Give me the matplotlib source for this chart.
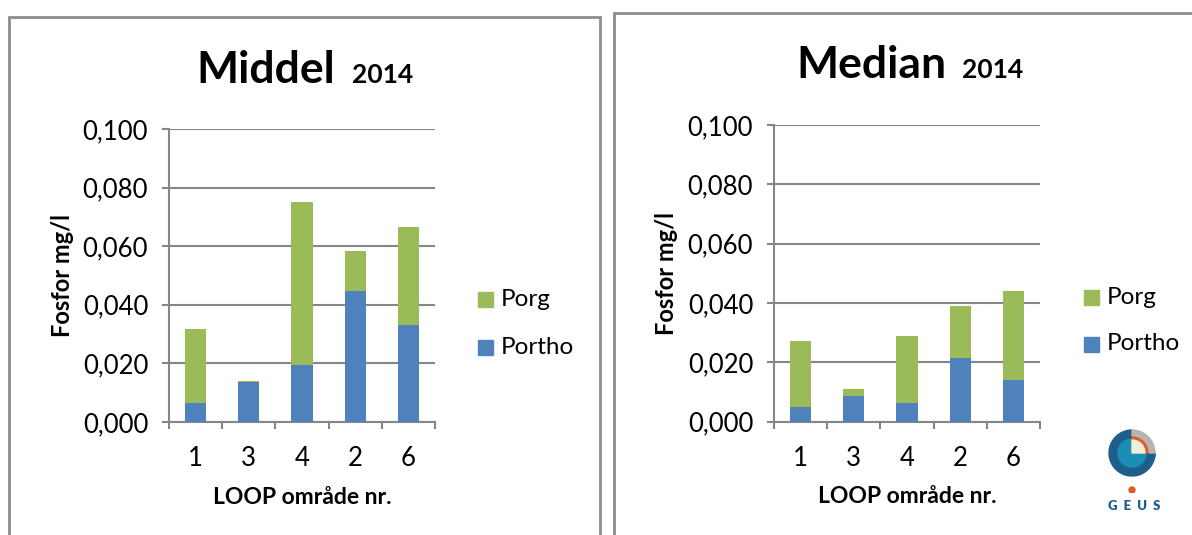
import matplotlib
matplotlib.use("Agg")
import matplotlib.pyplot as plt
from matplotlib.patches import Rectangle, Wedge, Circle
import numpy as np

plt.rcParams['font.family'] = ['Lato', 'DejaVu Sans']

categories = ["1", "3", "4", "2", "6"]
middel_portho = [0.0064, 0.0137, 0.0193, 0.0446, 0.0330]
middel_total = [0.0317, 0.0141, 0.0751, 0.0584, 0.0666]
middel_porg = [t - p for t, p in zip(middel_total, middel_portho)]
median_portho = [0.0051, 0.0088, 0.0064, 0.0216, 0.0139]
median_total = [0.0271, 0.0110, 0.0290, 0.0390, 0.0439]
median_porg = [t - p for t, p in zip(median_total, median_portho)]
yticks = [0.0, 0.02, 0.04, 0.06, 0.08, 0.10]
ytick_labels = ["0,000", "0,020", "0,040", "0,060", "0,080", "0,100"]
series_names = ["Porg", "Portho"]

BLUE = "#4F81BD"
GREEN = "#9BBB59"
GRID = "#868686"

W, H = 1192, 535
fig = plt.figure(figsize=(W / 100, H / 100), dpi=100)


def fx(x):
    return x / W


def fy(y):
    return 1 - y / H


# panel borders
for (x0, y0, x1, y1) in [(9, 17, 600, 560), (614, 13, 1220, 560)]:
    fig.patches.append(Rectangle((fx(x0), fy(y1)), fx(x1) - fx(x0), fy(y0) - fy(y1),
                                 transform=fig.transFigure, fill=False,
                                 edgecolor="#8c8c8c", linewidth=2.0, clip_on=False))


def make_panel(rect, portho, porg, title, title_right, title_left2, title_base,
               ylab_x, leg_x, leg_y1, leg_y2):
    ax = fig.add_axes(rect)
    x = np.arange(len(categories))
    ax.bar(x, portho, width=0.4, color=BLUE, zorder=3)
    ax.bar(x, porg, width=0.4, bottom=portho, color=GREEN, zorder=3)
    ax.set_xlim(-0.5, len(categories) - 0.5)
    ax.set_ylim(0, 0.1)
    ax.set_yticks(yticks)
    ax.set_yticklabels(ytick_labels, fontsize=18.5)
    ax.set_xticks(x)
    ax.set_xticklabels(categories, fontsize=18.5)
    ax.set_xticks(np.arange(-0.5, len(categories), 1.0), minor=True)
    ax.tick_params(axis='x', which='major', length=0, pad=17.5)
    ax.tick_params(axis='x', which='minor', length=5, width=1.5, color=GRID)
    ax.tick_params(axis='y', length=5, width=1.5, color=GRID, pad=10)
    ax.yaxis.grid(True, color=GRID, linewidth=1.5, zorder=0)
    ax.set_axisbelow(True)
    for s in ["top", "right"]:
        ax.spines[s].set_visible(False)
    for s in ["left", "bottom"]:
        ax.spines[s].set_color(GRID)
        ax.spines[s].set_linewidth(1.5)
    ax.set_xlabel("LOOP område nr.", fontsize=16.5, fontweight='bold', labelpad=11)
    fig.text(fx(ylab_x), (rect[1] + rect[1] + rect[3]) / 2, "Fosfor mg/l",
             rotation=90, fontsize=17, fontweight='bold', ha='center', va='center')
    fig.text(fx(title_right), fy(title_base), title, fontsize=32, fontweight='bold',
             ha='right', va='baseline')
    fig.text(fx(title_left2), fy(title_base), "2014", fontsize=19, fontweight='bold',
             ha='left', va='baseline')
    # legend
    for name, col, ly in [(series_names[0], GREEN, leg_y1), (series_names[1], BLUE, leg_y2)]:
        fig.patches.append(Rectangle((fx(leg_x), fy(ly + 7.5)), fx(15), 15 / H,
                                     transform=fig.transFigure, color=col))
        fig.text(fx(leg_x + 23), fy(ly), name, fontsize=17.5, ha='left', va='center')
    return ax


make_panel([fx(169), fy(422), fx(435) - fx(169), fy(129) - fy(422)],
           middel_portho, middel_porg, "Middel", 335, 352, 83, 62, 478, 299, 347)
make_panel([fx(774), fy(421.7), fx(1040) - fx(774), fy(125) - fy(421.7)],
           median_portho, median_porg, "Median", 946, 962, 78, 666, 1084, 297, 344)

# GEUS logo
lax = fig.add_axes([fx(1100), fy(493), fx(64), 64 / H])
lax.set_xlim(-32, 32)
lax.set_ylim(-40, 24)
lax.set_aspect('equal')
lax.axis('off')
lax.add_patch(Wedge((0, 0), 23, 90, 360, width=9, color="#1d5f8a"))
lax.add_patch(Wedge((0, 0), 23, -15, 0, width=9, color="#1d5f8a"))
lax.add_patch(Wedge((0, 0), 23, 0, 90, width=6, color="#b8b4b0"))
lax.add_patch(Wedge((0, 0), 14, 90, 360, color="#1a8fb5"))
lax.add_patch(Wedge((0, 0), 16, 0, 90, width=3, color="#e05a28"))
lax.add_patch(Wedge((0, 0), 13, 0, 90, color="#f3eed8"))
lax.add_patch(Circle((0, -37), 3, color="#e05a28"))
fig.text(fx(1134), fy(506), "G  E  U  S", fontsize=9.5, fontweight='heavy', color="#1d5f8a",
         ha='center', va='center')

fig.savefig("out.png", dpi=100)
